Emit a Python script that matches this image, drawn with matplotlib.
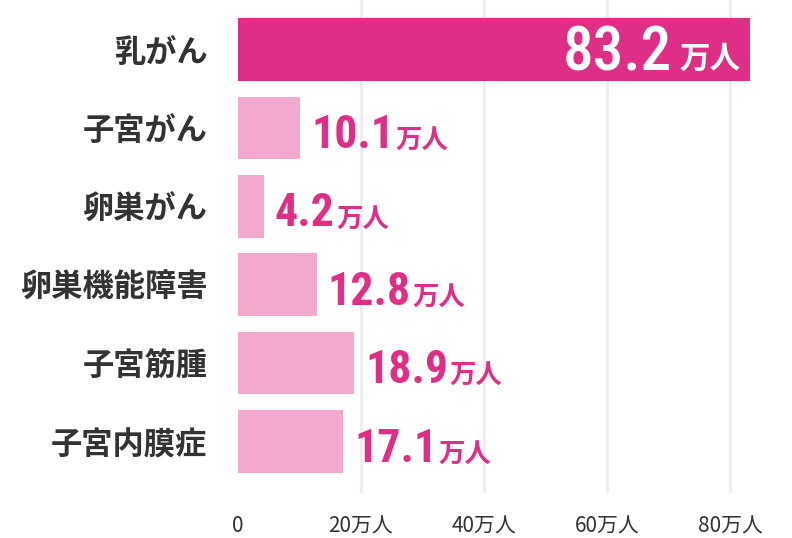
import matplotlib
matplotlib.use("Agg")
import matplotlib.pyplot as plt
from matplotlib import font_manager as fm

categories = ["乳がん", "子宮がん", "卵巣がん", "卵巣機能障害", "子宮筋腫", "子宮内膜症"]
values = [83.2, 10.1, 4.2, 12.8, 18.9, 17.1]
unit = "万人"
xticks = [0, 20, 40, 60, 80]
xtick_labels = ["0", "20万人", "40万人", "60万人", "80万人"]

MAIN = "#DF2E86"
LIGHT = "#F1A9CE"
DARK = "#333333"
CJK = ["Noto Sans CJK JP", "DejaVu Sans"]
installed = {f.name for f in fm.fontManager.ttflist}
if "Roboto Condensed" in installed:
    NUM = ["Roboto Condensed", "Noto Sans CJK JP", "DejaVu Sans"]
    num_big, num_small = 44, 33
else:
    NUM = ["Roboto", "Noto Sans CJK JP", "DejaVu Sans"]
    num_big, num_small = 37, 29

W, H = 792, 538
fig = plt.figure(figsize=(W / 100, H / 100), dpi=100)
left, right, top, bottom = 238, 791.5, 0, 493
ax = fig.add_axes([left / W, 1 - bottom / H, (right - left) / W, (bottom - top) / H])

ypos = list(range(len(categories)))
colors = [MAIN] + [LIGHT] * (len(categories) - 1)
ax.barh(ypos, values, height=0.8, color=colors, zorder=2)
ax.set_xlim(0, 90)
ax.set_ylim(5.657, -0.631)

for xv in xticks[1:]:
    ax.axvline(xv, color="#EEEEEE", lw=2.3, zorder=1)

for s in ax.spines.values():
    s.set_visible(False)
ax.set_xticks(xticks)
ax.set_xticklabels(xtick_labels, family=CJK, fontsize=15, color=DARK)
ax.tick_params(axis="x", length=0, pad=16)
ax.set_yticks(ypos)
ax.set_yticklabels(categories, family=CJK, fontsize=22.5, fontweight="bold", color=DARK)
ax.tick_params(axis="y", length=0, pad=22)

for i, v in enumerate(values):
    if i == 0:
        suf = ax.annotate(unit, xy=(v, i), xytext=(-7, -13.5), textcoords="offset points",
                          ha="right", va="baseline", family=CJK, fontsize=22,
                          fontweight="bold", color="white", zorder=3)
        ax.annotate(f"{v}", xy=(0, i), xycoords=(suf, "data"), xytext=(-5, -14.8),
                    textcoords="offset points", ha="right", va="baseline",
                    family=NUM, fontsize=num_big, fontweight="medium", color="white", zorder=3)
    else:
        t = ax.annotate(f"{v}", xy=(v, i), xytext=(8, -14.5), textcoords="offset points",
                        ha="left", va="baseline", family=NUM, fontsize=num_small,
                        fontweight="bold", color=MAIN, zorder=3)
        ax.annotate(unit, xy=(1, i), xycoords=(t, "data"), xytext=(1, -14.5),
                    textcoords="offset points", ha="left", va="baseline",
                    family=CJK, fontsize=19, fontweight="bold", color=MAIN, zorder=3)

fig.savefig("out.png", dpi=100)
